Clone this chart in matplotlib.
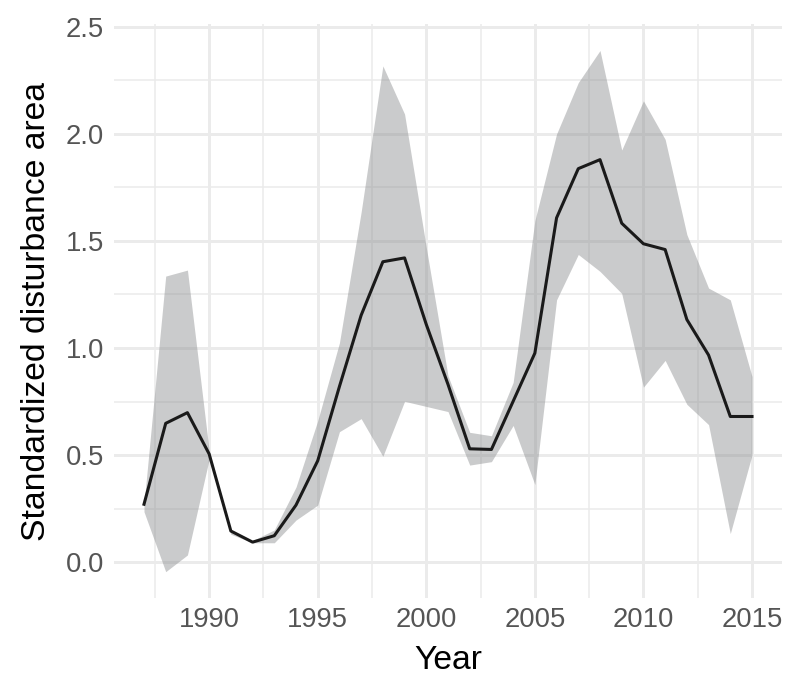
import matplotlib.pyplot as plt
import numpy as np

plt.rcParams['font.family'] = ['Liberation Sans', 'DejaVu Sans']

years = np.arange(1987, 2016)
mean = [0.27, 0.648, 0.698, 0.505, 0.145, 0.093, 0.123, 0.266, 0.473,
        0.82, 1.153, 1.403, 1.421, 1.11, 0.83, 0.529, 0.526, 0.751, 0.976,
        1.608, 1.838, 1.88, 1.583, 1.487, 1.46, 1.133, 0.967, 0.68, 0.68]
upper = [0.27, 1.336, 1.364, 0.52, 0.15, 0.10, 0.15, 0.35, 0.66,
         1.024, 1.635, 2.318, 2.093, 1.47, 0.87, 0.606, 0.59, 0.839, 1.595,
         2.0, 2.24, 2.39, 1.925, 2.155, 1.975, 1.53, 1.28, 1.225, 0.867]
lower = [0.235, -0.045, 0.033, 0.48, 0.13, 0.09, 0.09, 0.196, 0.266,
         0.609, 0.67, 0.494, 0.751, 0.727, 0.703, 0.453, 0.469, 0.638, 0.362,
         1.225, 1.437, 1.358, 1.255, 0.817, 0.942, 0.737, 0.642, 0.133, 0.5]

fig = plt.figure(figsize=(8, 6.89), dpi=100)
ax = fig.add_axes([0.142, 0.1324, 0.978 - 0.142, 0.9646 - 0.1324])

# ribbon + mean line
ax.fill_between(years, lower, upper, color='#8a8c8e', alpha=0.45, linewidth=0, zorder=2)
ax.plot(years, mean, color='#1a1a1a', linewidth=2.2, zorder=3)

ax.set_xlim(1985.6, 2016.4)
ax.set_ylim(-0.167, 2.512)
ax.set_xticks([1990, 1995, 2000, 2005, 2010, 2015])
ax.set_xticks(np.arange(1987.5, 2016, 5), minor=True)
ax.set_yticks([0.0, 0.5, 1.0, 1.5, 2.0, 2.5])
ax.set_yticks([0.25, 0.75, 1.25, 1.75, 2.25], minor=True)
ax.set_yticklabels(['0.0', '0.5', '1.0', '1.5', '2.0', '2.5'])

# theme_minimal look
ax.grid(which='major', color='#ebebeb', linewidth=2.1, zorder=0)
ax.grid(which='minor', color='#ebebeb', linewidth=1.1, zorder=0)
ax.set_axisbelow(True)
for s in ax.spines.values():
    s.set_visible(False)
ax.tick_params(which='both', length=0, labelsize=19.8, labelcolor='#555555')
ax.tick_params(axis='x', pad=7)
ax.tick_params(axis='y', pad=7)

ax.set_xlabel('Year', fontsize=24.3, color='black', labelpad=8)
ax.set_ylabel('Standardized disturbance area', fontsize=24.3, color='black', labelpad=10)

fig.savefig('out.png', dpi=100)
